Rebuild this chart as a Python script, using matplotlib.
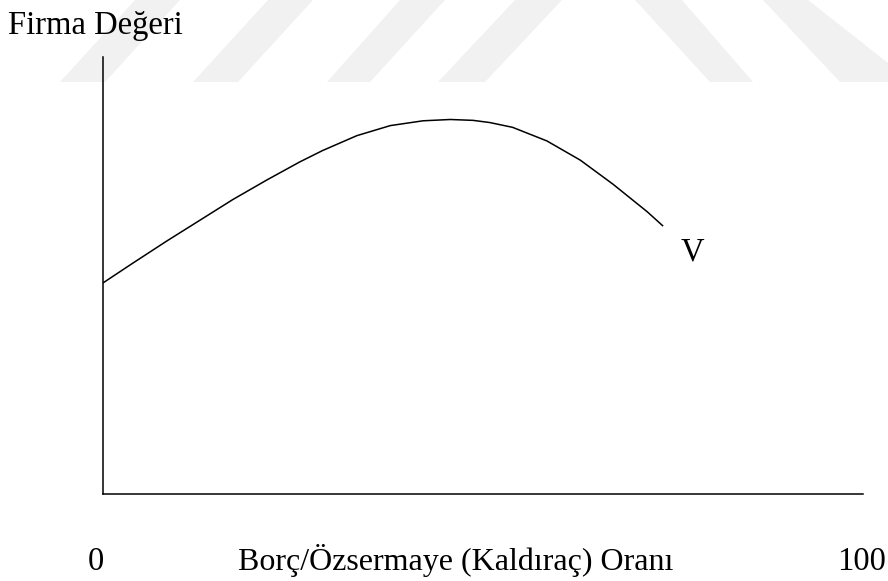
import matplotlib
matplotlib.use("Agg")
import matplotlib.pyplot as plt
from matplotlib.patches import Polygon

# Curve: debt/equity ratio (0-100) vs firm value (arbitrary units 0-100)
leverage = [0.0, 3.9, 8.4, 12.8, 17.1, 21.6, 25.9, 28.9, 33.4, 37.8,
            42.1, 45.7, 48.7, 50.9, 53.9, 58.4, 62.8, 67.1, 71.6, 73.7]
firm_value = [48.3, 52.8, 57.9, 62.7, 67.4, 71.9, 76.0, 78.6, 82.0, 84.3,
              85.4, 85.7, 85.5, 85.0, 83.9, 80.8, 76.4, 70.9, 64.6, 61.3]

y_title = "Firma Değeri"
x_title = "Borç/Özsermaye (Kaldıraç) Oranı"
x_start_label = "0"
x_end_label = "100"
curve_label = "V"

W, H = 888, 581
fig = plt.figure(figsize=(W / 100, H / 100), dpi=100)
plt.rcParams['font.family'] = ['Liberation Serif', 'DejaVu Serif']

# faint background watermark stripes (figure pixel coords, y from top)
stripes = [
    [(60, 82), (105, 82), (180, 0), (135, 0)],
    [(193, 82), (238, 82), (313, 0), (268, 0)],
    [(327, 82), (370, 82), (445, 0), (400, 0)],
    [(438, 82), (485, 82), (562, 0), (515, 0)],
    [(710, 82), (753, 82), (682, 0), (635, 0)],
    [(840, 82), (888, 82), (888, 63), (808, 0), (763, 0)],
]
for pts in stripes:
    fig.patches.append(Polygon([(px / W, 1 - py / H) for px, py in pts], closed=True,
                               transform=fig.transFigure, facecolor='#f1f1f1',
                               edgecolor='none', zorder=-5))

ax = fig.add_axes([103 / W, 1 - 494 / H, (863 - 103) / W, (494 - 57) / H])
ax.set_zorder(2)
ax.patch.set_alpha(0)
ax.plot(leverage, firm_value, color='black', linewidth=1.1,
        solid_joinstyle='round', solid_capstyle='butt')
ax.set_xlim(0, 100)
ax.set_ylim(0, 100)
for side in ['top', 'right']:
    ax.spines[side].set_visible(False)
for side in ['left', 'bottom']:
    ax.spines[side].set_linewidth(1.1)
ax.set_xticks([])
ax.set_yticks([])

fig.text(8 / W, 1 - 34 / H, y_title, fontsize=23.5, ha='left', va='baseline')
fig.text(96 / W, 1 - 570 / H, x_start_label, fontsize=23.5, ha='center', va='baseline')
fig.text(238 / W, 1 - 570 / H, x_title, fontsize=23, ha='left', va='baseline')
fig.text(862 / W, 1 - 570 / H, x_end_label, fontsize=23.5, ha='center', va='baseline')
ax.text(77.6, 55.3, curve_label, fontsize=23.5, ha='center', va='center')

fig.savefig("out.png", dpi=100)
